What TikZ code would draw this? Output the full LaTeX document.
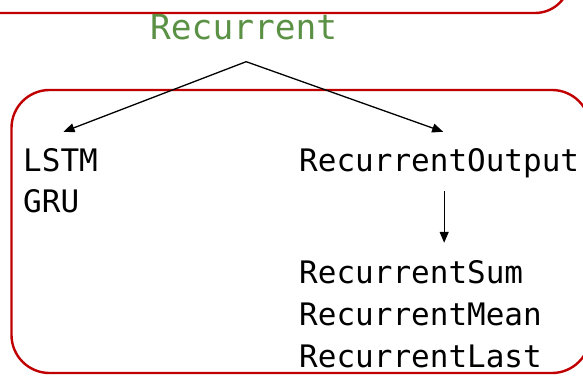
\documentclass[tikz,border=0pt]{standalone}
\usepackage{fontspec}
\setmonofont{DejaVu Sans Mono}
\usepackage{xcolor}
\usepackage{tikz}
\usetikzlibrary{arrows.meta,positioning,calc}
\definecolor{recred}{HTML}{C00000}
\definecolor{recgreen}{HTML}{5B9144}

\begin{document}
\begin{tikzpicture}[x=1pt,y=1pt,
    font=\fontsize{31}{37}\selectfont\ttfamily,
    box/.style={recred,line width=2.4pt,rounded corners=38pt},
    lbl/.style={anchor=base west,inner sep=0pt},
    arr/.style={line width=1.3pt,-{Triangle[length=11pt,width=9pt]}}]
    \useasboundingbox (0,0) rectangle (583,375);
    \clip (0,0) rectangle (583,375);
    % frames
    \draw[box,rounded corners=35pt] (-60,362) rectangle (570,440);
    \draw[box] (11.5,2) rectangle (590,285);
    % labels
    \node[lbl,recgreen,font=\fontsize{34.5}{40}\selectfont\ttfamily] (rec) at (150,335) {Recurrent};
    \node[lbl] (lstm) at (23,203) {LSTM};
    \node[lbl] (gru)  at (23,162) {GRU};
    \node[lbl] (out)  at (299,203) {RecurrentOutput};
    \node[lbl] (sum)  at (299,92) {RecurrentSum};
    \node[lbl] (mean) at (299,50) {RecurrentMean};
    \node[lbl] (last) at (299,8) {RecurrentLast};
    % arrows
    \coordinate (split) at ([xshift=2.5pt,yshift=-21pt]rec.south);
    \draw[arr] (split) -- ([xshift=3pt,yshift=17pt]lstm.north);
    \draw[arr] (split) -- ([xshift=4pt,yshift=17pt]out.north);
    \draw[arr] ([xshift=5pt,yshift=-12.5pt]out.south) -- ($(out.south |- sum.north)+(5,17)$);
  \end{tikzpicture}
\end{document}
